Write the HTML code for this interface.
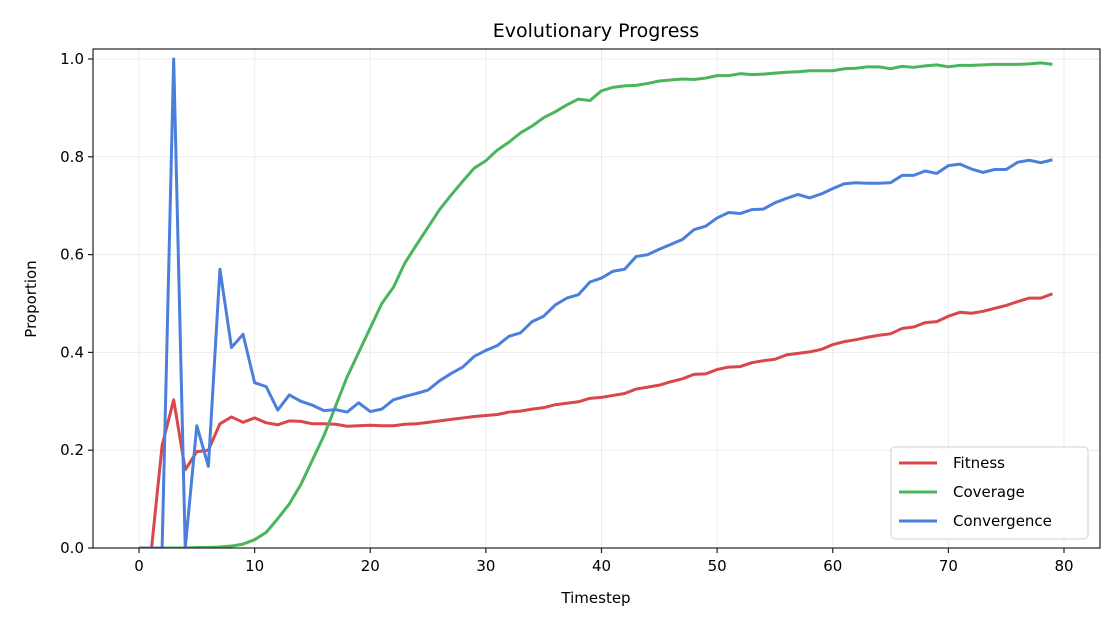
<!DOCTYPE html><html><head><meta charset="utf-8"><style>html,body{margin:0;padding:0;background:#fff;overflow:hidden;width:1120px;height:630px}svg{display:block;position:absolute;left:0;top:0}svg text{font-family:"DejaVu Sans","Liberation Sans",sans-serif;fill:#000}</style></head><body>
<svg id="s" width="1120" height="630" xmlns="http://www.w3.org/2000/svg">
<defs><clipPath id="c"><rect x="93" y="49" width="1007" height="499"/></clipPath></defs>
<g id="grid" stroke="#ebebeb" stroke-width="1"></g>
<g id="lines" clip-path="url(#c)" fill="none" stroke-width="3" stroke-linejoin="round"></g>
<rect x="93" y="49" width="1007" height="499" fill="none" stroke="#222" stroke-width="1.2"/>
<g id="ticks" stroke="#222" stroke-width="1.2"></g>
<g id="labels" font-size="15"></g>
<text x="596" y="37" text-anchor="middle" font-size="19">Evolutionary Progress</text>
<text x="596" y="603" text-anchor="middle" font-size="15">Timestep</text>
<text transform="translate(36,299) rotate(-90)" text-anchor="middle" font-size="15">Proportion</text>
<rect x="891" y="447" width="197" height="92" rx="4" fill="#fff" fill-opacity="0.85" stroke="#d0d0d0"/>
<line x1="899" y1="463" x2="937" y2="463" stroke="#d9474a" stroke-width="3"/>
<line x1="899" y1="492" x2="937" y2="492" stroke="#4ab55a" stroke-width="3"/>
<line x1="899" y1="521" x2="937" y2="521" stroke="#4a7fdc" stroke-width="3"/>
<text x="953" y="468" font-size="15">Fitness</text>
<text x="953" y="497" font-size="15">Coverage</text>
<text x="953" y="526" font-size="15">Convergence</text>
</svg>
<script>
var X=t=>139+11.5625*t,Y=v=>548-489*v;
var B=[0,0,0,1,0,0.25,0.167,0.57,0.41,0.437,0.338,0.33,0.282,0.313,0.3,0.292,0.281,0.283,0.278,0.297,0.279,0.284,0.303,0.31,0.316,0.323,0.342,0.357,0.37,0.392,0.404,0.414,0.433,0.44,0.463,0.474,0.497,0.511,0.518,0.544,0.552,0.566,0.57,0.596,0.6,0.611,0.621,0.631,0.651,0.658,0.675,0.686,0.684,0.692,0.693,0.706,0.715,0.723,0.716,0.724,0.735,0.745,0.747,0.746,0.746,0.747,0.762,0.762,0.771,0.766,0.782,0.785,0.775,0.768,0.774,0.774,0.789,0.793,0.788,0.794];
var G=[0,0,0,0,0,0.001,0.001,0.002,0.004,0.008,0.017,0.032,0.06,0.09,0.13,0.18,0.23,0.29,0.35,0.4,0.45,0.5,0.533,0.583,0.62,0.656,0.692,0.722,0.75,0.777,0.792,0.814,0.83,0.849,0.863,0.88,0.892,0.906,0.918,0.915,0.935,0.942,0.945,0.946,0.95,0.955,0.957,0.959,0.958,0.961,0.966,0.966,0.97,0.968,0.969,0.971,0.973,0.974,0.976,0.976,0.976,0.98,0.981,0.984,0.984,0.98,0.985,0.983,0.986,0.988,0.984,0.987,0.987,0.988,0.989,0.989,0.989,0.99,0.992,0.989];
var R=[-0.3,-0.02,0.21,0.303,0.16,0.197,0.2,0.254,0.268,0.257,0.266,0.256,0.252,0.26,0.259,0.254,0.254,0.253,0.249,0.25,0.251,0.25,0.25,0.253,0.254,0.257,0.26,0.263,0.266,0.269,0.271,0.273,0.278,0.28,0.284,0.287,0.293,0.296,0.299,0.306,0.308,0.312,0.316,0.325,0.329,0.333,0.34,0.346,0.355,0.356,0.365,0.37,0.371,0.379,0.383,0.386,0.395,0.398,0.401,0.406,0.416,0.422,0.426,0.431,0.435,0.438,0.449,0.452,0.461,0.463,0.474,0.482,0.48,0.484,0.49,0.496,0.504,0.511,0.511,0.52];
var ns="http://www.w3.org/2000/svg";
function el(p,t,a){var e=document.createElementNS(ns,t);for(var k in a)e.setAttribute(k,a[k]);document.getElementById(p).appendChild(e);return e;}
[[R,"#d9474a"],[G,"#4ab55a"],[B,"#4a7fdc"]].forEach(function(s){el("lines","polyline",{points:s[0].map((v,i)=>X(i)+","+Y(v)).join(" "),stroke:s[1]});});
for(var t=0;t<=80;t+=10){var x=X(t);el("grid","line",{x1:x,x2:x,y1:49,y2:548});el("ticks","line",{x1:x,x2:x,y1:548,y2:553});var e=el("labels","text",{x:x,y:571,"text-anchor":"middle"});e.textContent=t;}
for(var i=0;i<=5;i++){var v=i*0.2,y=Y(v);el("grid","line",{x1:93,x2:1100,y1:y,y2:y});el("ticks","line",{x1:88,x2:93,y1:y,y2:y});var e=el("labels","text",{x:84,y:y+5,"text-anchor":"end"});e.textContent=v.toFixed(1);}
</script>
</body></html>
